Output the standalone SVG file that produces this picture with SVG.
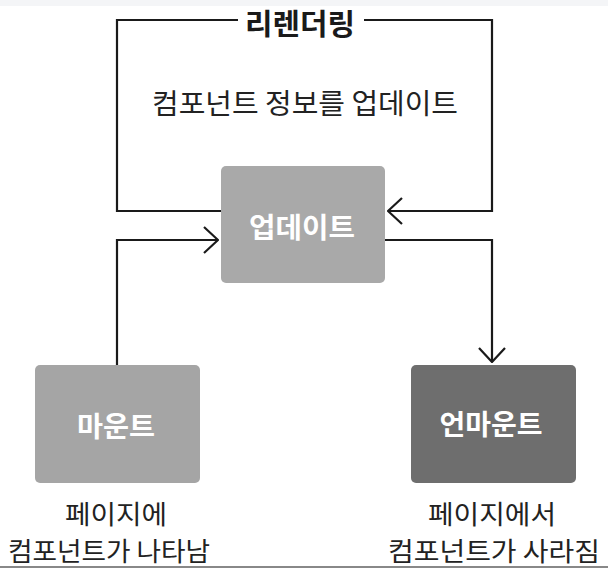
<svg xmlns="http://www.w3.org/2000/svg" width="608" height="568" viewBox="0 0 608 568">
<defs>
<style>
text{font-family:"Noto Sans CJK KR","Noto Sans",sans-serif;text-anchor:middle;dominant-baseline:central}
.lbl{font-size:26px;fill:#222}
.box{font-size:28px;font-weight:bold;fill:#fff}
.ln{fill:none;stroke:#1a1a1a;stroke-width:2.2}
</style>
<marker id="ah" viewBox="0 0 16 28" refX="15" refY="14" markerWidth="16" markerHeight="28" markerUnits="userSpaceOnUse" orient="auto">
<path d="M1,1 L15,14 L1,27" fill="none" stroke="#1a1a1a" stroke-width="2.2"/>
</marker>
</defs>
<rect width="608" height="568" fill="#fff"/>
<rect width="608" height="6" fill="#f4f5f7"/>
<rect x="0" y="566" width="608" height="2" fill="#888"/>
<g id="connectors">
<path class="ln" d="M238,20 H117 V211 H221"/>
<path class="ln" d="M364,20 H492 V211 H388" marker-end="url(#ah)"/>
<path class="ln" d="M117,365 V240 H218" marker-end="url(#ah)"/>
<path class="ln" d="M385,240 H492 V362" marker-end="url(#ah)"/>
</g>
<g id="rerender-label">
<text x="300" y="22" textLength="110" lengthAdjust="spacingAndGlyphs" style="font-size:29px;font-weight:bold;fill:#1a1a1a">리렌더링</text>
<text x="305" y="102" textLength="306" lengthAdjust="spacingAndGlyphs" style="font-size:28px;fill:#222">컴포넌트 정보를 업데이트</text>
</g>
<g id="update">
<rect x="221" y="166" width="164" height="117" rx="5" fill="#a9a9a9"/>
<text class="box" x="302" y="226" textLength="106" lengthAdjust="spacingAndGlyphs">업데이트</text>
</g>
<g id="mount">
<rect x="35" y="365" width="165" height="118" rx="5" fill="#a5a5a5"/>
<text class="box" x="116" y="425" textLength="78" lengthAdjust="spacingAndGlyphs">마운트</text>
<text class="lbl" x="116" y="512" textLength="102" lengthAdjust="spacingAndGlyphs">페이지에</text>
<text class="lbl" x="109" y="549" textLength="202" lengthAdjust="spacingAndGlyphs">컴포넌트가 나타남</text>
</g>
<g id="unmount">
<rect x="411" y="365" width="165" height="118" rx="5" fill="#6e6e6e"/>
<text class="box" x="491" y="423" textLength="103" lengthAdjust="spacingAndGlyphs">언마운트</text>
<text class="lbl" x="492" y="512" textLength="128" lengthAdjust="spacingAndGlyphs">페이지에서</text>
<text class="lbl" x="494" y="549" textLength="212" lengthAdjust="spacingAndGlyphs">컴포넌트가 사라짐</text>
</g>
</svg>
